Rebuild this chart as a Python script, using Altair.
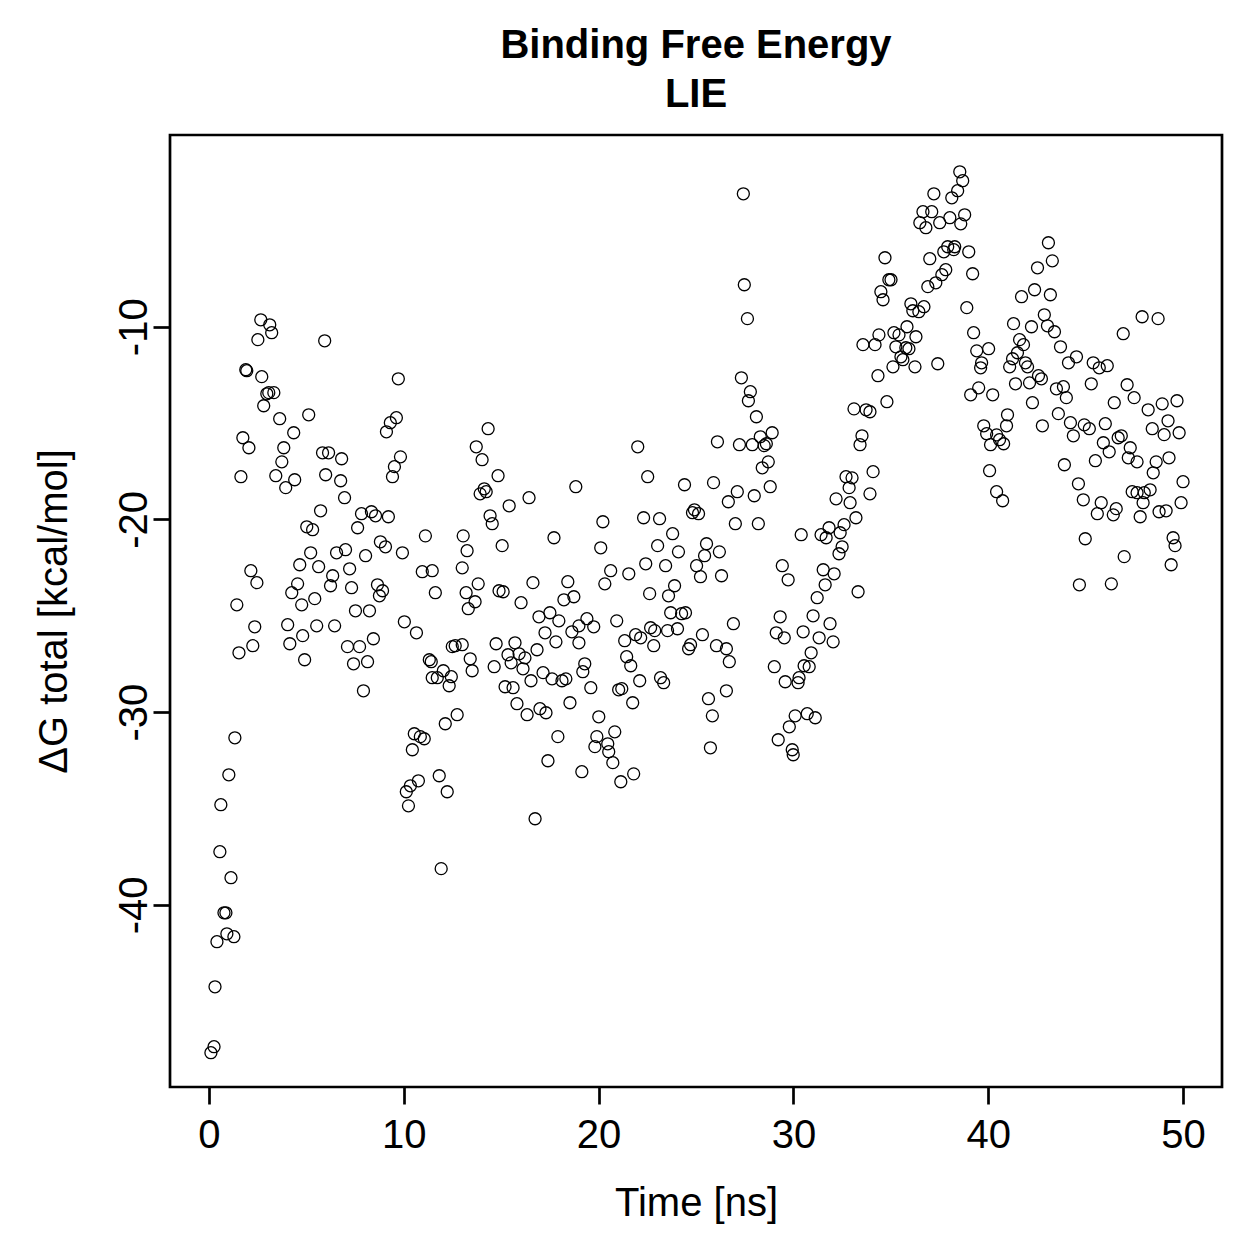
import altair as alt
import pandas as pd

# Binding free energy (LIE) sampled along a 50 ns trajectory.
# Series stored in four consecutive time segments.

t_seg1 = [0.10, 0.26, 0.31, 0.41, 0.56, 0.61, 0.77, 0.87, 0.92, 1.02, 1.13, 1.28, 1.33, 1.43, 1.54,
          1.64, 1.74, 1.89, 1.94, 2.05, 2.15, 2.25, 2.35, 2.46, 2.51, 2.66, 2.71, 2.81, 2.97, 3.07,
          3.12, 3.22, 3.33, 3.43, 3.63, 3.74, 3.84, 3.94, 4.04, 4.15, 4.25, 4.35, 4.40, 4.55, 4.66,
          4.76, 4.81, 4.91, 5.02, 5.12, 5.22, 5.32, 5.43, 5.53, 5.63, 5.73, 5.83, 5.94, 5.99, 6.14,
          6.24, 6.35, 6.45, 6.55, 6.76, 6.81, 6.96, 7.01, 7.11, 7.22, 7.32, 7.42, 7.52, 7.63, 7.73,
          7.83, 7.93, 8.04, 8.14, 8.24, 8.34, 8.44, 8.55, 8.65, 8.75, 8.80, 8.91, 9.06, 9.11, 9.21,
          9.31, 9.42, 9.52, 9.62, 9.72, 9.83, 9.93, 10.03, 10.13, 10.24, 10.34, 10.44, 10.54, 10.65,
          10.75, 10.85, 10.95, 11.05, 11.11, 11.31, 11.41, 11.46, 11.46, 11.62, 11.72, 11.82, 11.92,
          12.03, 12.13, 12.23, 12.33, 12.44, 12.49, 12.64, 12.74]
dg_seg1 = [-47.67, -47.36, -44.25, -41.91, -37.24, -34.80, -40.41, -40.41, -41.50, -33.25, -38.59,
           -41.65, -31.33, -24.43, -26.92, -17.78, -15.76, -12.23, -12.28, -16.28, -22.66, -26.55,
           -25.57, -23.28, -10.67, -9.64, -12.59, -14.10, -13.48, -13.42, -9.90, -10.31, -13.42,
           -17.73, -14.77, -17.01, -16.28, -18.35, -25.46, -26.45, -23.80, -15.50, -17.94, -23.34,
           -22.35, -24.43, -26.03, -27.28, -20.38, -14.57, -21.73, -20.53, -24.11, -25.52, -22.45,
           -19.55, -16.54, -10.73, -17.68, -16.54, -23.44, -22.92, -25.52, -21.73, -17.99, -16.85,
           -18.87, -21.57, -26.60, -22.56, -23.54, -27.49, -24.74, -20.43, -26.60, -19.70, -28.89,
           -21.88, -27.38, -24.74, -19.60, -26.19, -19.81, -23.39, -23.96, -21.16, -23.70, -21.42,
           -15.45, -19.86, -14.98, -17.78, -17.26, -14.72, -12.70, -16.75, -21.73, -25.31, -34.13,
           -34.86, -33.82, -31.95, -31.12, -25.88, -33.56, -31.27, -22.71, -31.38, -20.85, -27.28,
           -27.38, -22.66, -28.21, -23.80, -28.21, -33.30, -38.12, -27.85, -30.60, -34.13, -28.63,
           -28.16, -26.60, -26.55, -30.13]

t_seg2 = [13.00, 13.00, 13.05, 13.20, 13.25, 13.31, 13.41, 13.51, 13.66, 13.72, 13.82, 13.92, 14.02,
          14.13, 14.23, 14.33, 14.43, 14.54, 14.64, 14.74, 14.84, 14.89, 15.05, 15.10, 15.20, 15.35,
          15.41, 15.51, 15.61, 15.71, 15.81, 15.92, 16.02, 16.12, 16.22, 16.33, 16.43, 16.53, 16.63,
          16.74, 16.84, 16.94, 16.99, 17.15, 17.25, 17.30, 17.40, 17.50, 17.61, 17.71, 17.81, 17.91,
          17.96, 18.12, 18.22, 18.32, 18.42, 18.53, 18.63, 18.73, 18.83, 18.99, 18.99, 19.14, 19.19,
          19.29, 19.40, 19.60, 19.75, 19.81, 19.91, 20.01, 20.11, 20.22, 20.32, 20.47, 20.52, 20.62,
          20.73, 20.83, 20.93, 21.03, 21.14, 21.19, 21.34, 21.44, 21.55, 21.65, 21.75, 21.80, 21.90,
          22.01, 22.11, 22.16, 22.31, 22.42, 22.52, 22.62, 22.67, 22.83, 22.88, 23.03, 23.13, 23.18,
          23.34, 23.44, 23.54, 23.59, 23.70, 23.80, 23.90, 24.05, 24.10, 24.26, 24.41, 24.46, 24.62,
          24.72, 24.82, 24.92, 25.03, 25.13, 25.23, 25.33, 25.44, 25.54, 25.64, 25.74, 25.84, 25.90,
          26.05, 26.10, 26.20, 26.31, 26.66]
dg_seg2 = [-22.51, -26.50, -20.85, -23.80, -21.62, -24.63, -27.23, -27.85, -24.27, -16.23, -23.34,
           -18.67, -16.90, -18.41, -18.56, -15.29, -19.81, -20.22, -27.64, -26.45, -17.73, -23.70,
           -21.36, -23.75, -28.68, -27.02, -19.29, -27.44, -28.73, -26.40, -29.56, -26.97, -24.32,
           -27.75, -27.18, -30.13, -18.87, -28.37, -23.28, -35.53, -26.76, -25.05, -29.82, -27.95,
           -25.88, -30.03, -32.52, -24.84, -28.27, -20.95, -26.35, -31.27, -25.26, -28.37, -24.17,
           -28.27, -23.23, -29.51, -25.83, -24.01, -18.30, -25.52, -26.40, -33.09, -27.90, -27.49,
           -25.15, -28.73, -25.57, -31.79, -31.27, -30.24, -21.47, -20.12, -23.34, -31.64, -32.05,
           -22.66, -32.62, -31.02, -25.26, -28.84, -33.61, -28.78, -26.29, -27.12, -22.82, -27.59,
           -29.51, -33.20, -25.98, -16.23, -28.37, -26.14, -19.91, -22.30, -17.78, -23.85, -25.62,
           -26.55, -25.77, -21.36, -19.96, -28.21, -28.47, -22.40, -25.77, -23.96, -24.84, -20.74,
           -23.44, -25.67, -21.68, -24.89, -18.20, -24.84, -26.71, -26.50, -19.65, -19.50, -22.40,
           -19.70, -22.97, -25.98, -21.88, -21.26, -29.30, -31.85, -30.19, -18.09, -26.55, -15.97,
           -21.68, -22.92, -19.08]

t_seg3 = [26.56, 26.56, 26.71, 26.92, 27.02, 27.12, 27.23, 27.33, 27.43, 27.48, 27.64, 27.69, 27.79,
          27.89, 27.99, 28.10, 28.20, 28.30, 28.40, 28.50, 28.61, 28.71, 28.81, 28.91, 29.02, 29.12,
          29.22, 29.32, 29.43, 29.53, 29.58, 29.73, 29.79, 29.94, 29.99, 30.09, 30.24, 30.29, 30.40,
          30.50, 30.55, 30.71, 30.81, 30.91, 31.01, 31.12, 31.22, 31.32, 31.42, 31.53, 31.63, 31.68,
          31.83, 31.88, 32.04, 32.09, 32.19, 32.34, 32.40, 32.50, 32.60, 32.70, 32.86, 32.91, 33.01,
          33.11, 33.21, 33.32, 33.42, 33.52, 33.57, 33.73, 33.93, 33.93, 34.09, 34.19, 34.34, 34.39,
          34.49, 34.60, 34.70, 34.80, 34.90, 35.01, 35.11, 35.16, 35.26, 35.42, 35.52, 35.62, 35.77,
          35.83, 35.93, 36.03, 36.13, 36.24, 36.29, 36.44, 36.49, 36.65, 36.70, 36.80, 36.90, 37.00,
          37.10, 37.21, 37.31, 37.41, 37.51, 37.62, 37.72, 37.82, 37.92, 38.03, 38.13, 38.23, 38.28,
          38.43, 38.54, 38.59, 38.69, 38.79, 38.90, 39.00, 39.10, 39.20, 39.25, 39.41, 39.51, 39.61,
          39.66, 39.77, 39.92, 40.02, 40.07, 40.12, 40.23, 40.43, 40.43, 40.58, 40.74, 40.79, 40.94]
dg_seg3 = [-26.71, -28.89, -27.38, -25.41, -20.22, -18.56, -16.12, -12.65, -3.10, -7.82, -9.58,
           -13.84, -13.37, -16.12, -18.77, -14.67, -20.22, -15.71, -17.32, -16.17, -16.07, -17.01,
           -18.30, -15.50, -27.64, -25.88, -31.43, -25.05, -22.40, -26.14, -28.42, -23.13, -30.76,
           -31.95, -32.21, -30.19, -28.47, -28.21, -20.79, -25.83, -27.59, -30.08, -27.64, -26.92,
           -25.00, -30.29, -24.06, -26.14, -20.79, -22.61, -23.39, -20.95, -20.43, -25.41, -26.35,
           -22.82, -18.93, -21.78, -20.69, -21.42, -20.27, -17.78, -18.35, -19.13, -17.84, -14.26,
           -19.91, -23.75, -16.12, -15.66, -10.93, -14.31, -14.41, -18.67, -17.52, -10.93, -12.54,
           -10.42, -8.18, -8.60, -6.42, -13.89, -7.56, -7.56, -12.08, -10.31, -11.04, -10.42, -11.56,
           -11.71, -11.09, -10.00, -11.14, -8.81, -9.17, -12.08, -10.52, -9.22, -4.60, -4.03, -8.96,
           -4.86, -7.92, -6.47, -4.03, -3.10, -7.72, -11.92, -4.60, -7.30, -6.11, -7.04, -5.85,
           -4.34, -3.31, -6.00, -5.85, -2.94, -1.96, -4.66, -2.42, -4.19, -9.01, -6.11, -13.53,
           -7.25, -10.31, -11.25, -13.17, -12.13, -11.87, -15.14, -15.55, -11.14, -17.47, -16.12,
           -13.53, -15.61, -18.56, -15.86, -19.03, -16.07, -15.14]

t_seg4 = [40.99, 41.10, 41.25, 41.30, 41.40, 41.50, 41.61, 41.71, 41.81, 41.91, 42.02, 42.12, 42.22,
          42.27, 42.38, 42.53, 42.58, 42.73, 42.78, 42.88, 43.04, 43.09, 43.19, 43.29, 43.40, 43.50,
          43.60, 43.71, 43.86, 43.91, 44.01, 44.12, 44.22, 44.37, 44.53, 44.63, 44.68, 44.88, 44.93,
          44.98, 45.19, 45.29, 45.39, 45.50, 45.60, 45.70, 45.80, 45.91, 46.01, 46.11, 46.21, 46.32,
          46.42, 46.47, 46.57, 46.67, 46.83, 46.93, 46.98, 47.13, 47.19, 47.29, 47.39, 47.49, 47.64,
          47.64, 47.80, 47.90, 47.95, 48.01, 48.21, 48.31, 48.42, 48.47, 48.62, 48.72, 48.77, 48.93,
          49.03, 49.13, 49.23, 49.28, 49.39, 49.49, 49.59, 49.69, 49.80, 49.90, 50.00]
dg_seg4 = [-14.57, -12.08, -11.66, -9.84, -12.96, -11.35, -10.67, -8.44, -10.93, -11.87, -12.08,
           -12.91, -10.00, -13.94, -8.08, -6.94, -12.54, -12.70, -15.14, -9.38, -9.95, -5.64, -8.34,
           -6.58, -10.26, -13.22, -14.51, -11.04, -13.11, -17.16, -13.68, -11.87, -14.98, -15.66,
           -11.56, -18.15, -23.39, -18.98, -15.09, -21.00, -15.29, -12.96, -11.87, -16.95, -19.70,
           -12.13, -19.13, -16.02, -15.03, -12.02, -16.49, -23.34, -19.76, -13.94, -19.44, -15.76,
           -15.66, -10.36, -21.93, -13.01, -16.80, -16.28, -18.56, -13.68, -17.01, -18.61, -19.86,
           -9.48, -19.13, -18.61, -14.31, -18.46, -15.29, -17.58, -17.01, -9.58, -19.60, -14.00,
           -15.60, -19.55, -14.88, -16.80, -22.35, -20.95, -21.36, -13.84, -15.50, -19.13, -18.04]

x_ticks = [0, 10, 20, 30, 40, 50]
y_ticks = [-40, -30, -20, -10]

df = pd.DataFrame({
    "time": t_seg1 + t_seg2 + t_seg3 + t_seg4,
    "dg": dg_seg1 + dg_seg2 + dg_seg3 + dg_seg4,
})

FONT = "Liberation Sans"
PLOT_W, PLOT_H = 1052, 952

# tick labels with a plain hyphen-minus
ascii_minus = "datum.value < 0 ? '-' + format(-datum.value, 'd') : format(datum.value, 'd')"

points = alt.Chart(df).mark_point(
    shape="circle", filled=False, size=144, strokeWidth=1.3, color="black", opacity=1
).encode(
    x=alt.X("time:Q",
            scale=alt.Scale(domain=[-2, 52], nice=False, zero=False),
            axis=alt.Axis(values=x_ticks, title="Time [ns]", labelPadding=11,
                          titleX=PLOT_W / 2, titleY=128, titleBaseline="alphabetic",
                          titleAlign="center")),
    y=alt.Y("dg:Q",
            scale=alt.Scale(domain=[-49.45, -0.05], nice=False, zero=False),
            axis=alt.Axis(values=y_ticks, title="\u0394G total [kcal/mol]",
                          labelExpr=ascii_minus,
                          labelAngle=270, labelAlign="center", labelBaseline="alphabetic",
                          labelPadding=7, titleAngle=270, titleX=-104, titleY=PLOT_H / 2,
                          titleBaseline="alphabetic", titleAlign="center")),
)

chart = points.properties(
    width=PLOT_W,
    height=PLOT_H,
    title=alt.TitleParams(
        text=["Binding Free Energy", "LIE"],
        font=FONT, fontSize=40, fontWeight="bold", color="black",
        anchor="middle", lineHeight=49, offset=20,
    ),
    autosize=alt.AutoSizeParams(type="none"),
    padding={"left": 170, "top": 135, "right": 37, "bottom": 172},
).configure(
    background="white",
).configure_view(
    stroke="black", strokeWidth=2.7, fill="white",
).configure_axis(
    domain=False, grid=False,
    ticks=True, tickColor="black", tickSize=17, tickWidth=2.7,
    labelFont=FONT, labelFontSize=40, labelColor="black",
    labelFlush=False, labelOverlap=False,
    titleFont=FONT, titleFontSize=40, titleFontWeight="normal", titleColor="black",
)

chart.save("out.html", embed_options={"renderer": "svg", "actions": False})
